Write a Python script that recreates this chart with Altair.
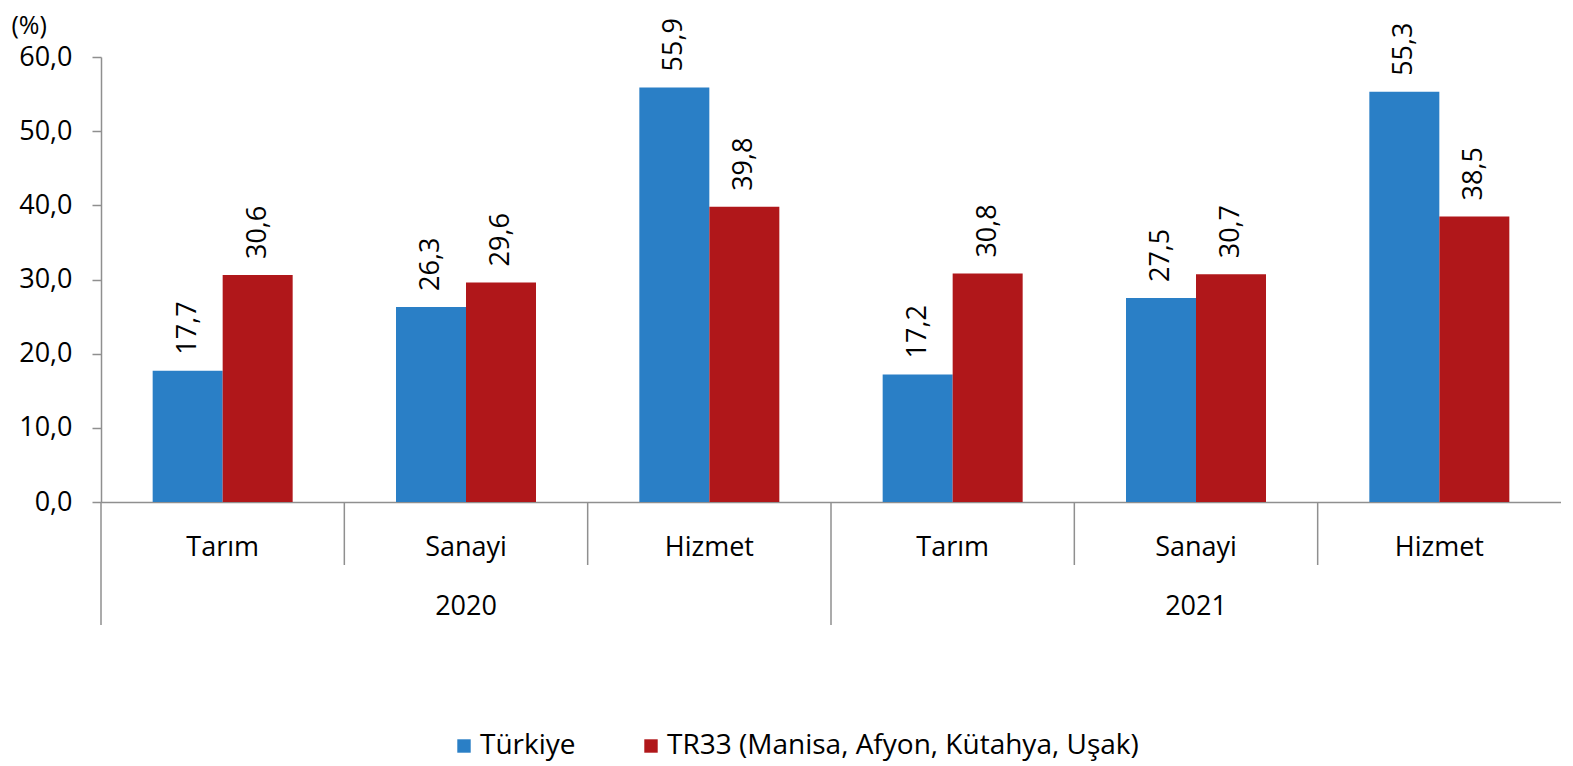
import altair as alt
import pandas as pd

years = ["2020", "2020", "2020", "2021", "2021", "2021"]
sectors = ["Tarım", "Sanayi", "Hizmet", "Tarım", "Sanayi", "Hizmet"]
series_names = ["Türkiye", "TR33 (Manisa, Afyon, Kütahya, Uşak)"]
turkiye = [17.7, 26.3, 55.9, 17.2, 27.5, 55.3]
tr33 = [30.6, 29.6, 39.8, 30.8, 30.7, 38.5]
y_ticks = [0, 10, 20, 30, 40, 50, 60]

colors = ["#2A7FC6", "#B0171A"]
FONT = "Open Sans"
FS = 27
GREY = "#8f8f8f"
W, H = 1460, 445
BAR_W = 70

keys = [f"{y} {s}" for y, s in zip(years, sectors)]
rows = []
for k, y, s, a, b in zip(keys, years, sectors, turkiye, tr33):
    rows.append({"key": k, "year": y, "sector": s, "series": series_names[0], "value": a})
    rows.append({"key": k, "year": y, "sector": s, "series": series_names[1], "value": b})
df = pd.DataFrame(rows)

cat_df = pd.DataFrame({"key": keys, "sector": sectors})
sep_cat = pd.DataFrame({"key": [k for i, k in enumerate(keys) if i % 3 != 0]})
sep_year = pd.DataFrame({"key": [k for i, k in enumerate(keys) if i % 3 == 0]})
year_df = pd.DataFrame({"key": [k for i, k in enumerate(keys) if i % 3 == 1],
                        "year": [y for i, y in enumerate(years) if i % 3 == 1]})

step = W / len(keys)
po = (step / BAR_W - 2) / 2

xscale = alt.Scale(domain=keys, paddingInner=0, paddingOuter=0)

x_enc = alt.X("key:N", scale=xscale, sort=keys,
              axis=alt.Axis(title=None, labels=False, ticks=False, domain=True,
                            domainColor=GREY, domainWidth=1.5))
y_enc = alt.Y("value:Q", scale=alt.Scale(domain=[0, 60], nice=False),
              axis=alt.Axis(values=y_ticks, grid=False, title="(%)",
                            labelExpr="replace(format(datum.value, '.1f'), '.', ',')",
                            labelFont=FONT, labelFontSize=FS, labelColor="#000000",
                            labelPadding=20, tickSize=9, tickColor=GREY, tickWidth=1.5,
                            domainColor=GREY, domainWidth=1.5,
                            titleAngle=0, titleAlign="left", titleBaseline="middle",
                            titleX=-90, titleY=-32, titleFont=FONT, titleFontSize=25,
                            titleFontWeight="normal", titleColor="#000000", titleLimit=0))
xoff = alt.XOffset("series:N", sort=series_names,
                   scale=alt.Scale(domain=series_names, paddingInner=0, paddingOuter=po))

base = alt.Chart(df)

bars = base.mark_bar().encode(
    x=x_enc, y=y_enc, xOffset=xoff,
    color=alt.Color("series:N", sort=series_names,
                    scale=alt.Scale(domain=series_names, range=colors),
                    legend=alt.Legend(title=None, orient="none", direction="horizontal",
                                      legendX=349, legendY=675,
                                      symbolType="square", symbolSize=180,
                                      symbolStrokeWidth=0, labelFont=FONT,
                                      labelFontSize=28, labelColor="#000000",
                                      labelLimit=0, padding=0,
                                      labelOffset=2, columnPadding=61)),
)

labels = base.mark_text(angle=270, align="left", baseline="middle", dx=16,
                        font=FONT, fontSize=FS, color="#000000").transform_calculate(
    lbl="replace(format(datum.value, '.1f'), '.', ',')"
).encode(
    x=alt.X("key:N", scale=xscale, sort=keys), y="value:Q", xOffset=xoff,
    text="lbl:N",
)

cat_labels = alt.Chart(cat_df).mark_text(font=FONT, fontSize=FS, color="#000000",
                                         baseline="middle").encode(
    x=alt.X("key:N", scale=xscale, sort=keys), y=alt.value(H + 46), text="sector:N"
)

year_labels = alt.Chart(year_df).mark_text(font=FONT, fontSize=FS, color="#000000",
                                           baseline="middle").encode(
    x=alt.X("key:N", scale=xscale, sort=keys), y=alt.value(H + 105), text="year:N"
)

cat_seps = alt.Chart(sep_cat).mark_rule(color=GREY, strokeWidth=1.5).encode(
    x=alt.X("key:N", scale=xscale, sort=keys, bandPosition=0),
    y=alt.value(H), y2=alt.value(H + 63)
)
year_seps = alt.Chart(sep_year).mark_rule(color=GREY, strokeWidth=1.5).encode(
    x=alt.X("key:N", scale=xscale, sort=keys, bandPosition=0),
    y=alt.value(H), y2=alt.value(H + 123)
)

chart = alt.layer(bars, labels, cat_seps, year_seps, cat_labels, year_labels).properties(
    width=W, height=H,
    autosize=alt.AutoSizeParams(type="none"),
    padding={"left": 93, "top": 49, "right": 0, "bottom": 262},
).configure_view(stroke=None)

chart.save("out.html", embed_options={"renderer": "svg", "actions": False})
